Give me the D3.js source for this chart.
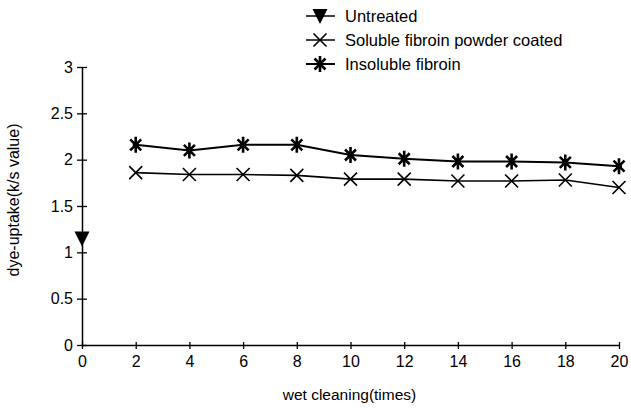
<!DOCTYPE html>
<html>
<head>
<meta charset="utf-8">
<script src="https://cdn.jsdelivr.net/npm/d3@7"></script>
<style>
  body { margin: 0; background: #fff; }
  text { font-family: "Liberation Sans", Arial, sans-serif; fill: #000; }
</style>
</head>
<body>
<svg id="chart" width="631" height="408"></svg>
<script>
var washes = [2, 4, 6, 8, 10, 12, 14, 16, 18, 20];
var untreated = [{ x: 0, y: 1.15 }];
var soluble = [1.86, 1.84, 1.84, 1.83, 1.79, 1.79, 1.77, 1.77, 1.78, 1.70];
var insoluble = [2.16, 2.10, 2.16, 2.16, 2.05, 2.01, 1.98, 1.98, 1.97, 1.93];
var xTicks = [0, 2, 4, 6, 8, 10, 12, 14, 16, 18, 20];
var yTicks = [0, 0.5, 1, 1.5, 2, 2.5, 3];
var legendNames = ["Untreated", "Soluble fibroin powder coated", "Insoluble fibroin"];

var svg = d3.select("#chart"),
    plotLeft = 82, plotRight = 619, plotTop = 67, plotBottom = 345;

var x = d3.scaleLinear().domain([0, 20]).range([plotLeft, plotRight]);
var y = d3.scaleLinear().domain([0, 3]).range([plotBottom, plotTop]);

// axes
var xAxis = svg.append("g").attr("transform", "translate(0," + plotBottom + ")")
    .call(d3.axisBottom(x).tickValues(xTicks).tickFormat(d3.format("d")).tickSize(4).tickSizeOuter(0));
xAxis.selectAll(".tick line").attr("y1", -3);
var yAxis = svg.append("g").attr("transform", "translate(" + plotLeft + ",0)")
    .call(d3.axisLeft(y).tickValues(yTicks).tickFormat(function (d) { return d; }).tickSize(5).tickSizeOuter(0));
yAxis.selectAll(".tick line").attr("x1", 5).attr("x2", -5);

svg.selectAll(".domain").attr("stroke", "#000").attr("stroke-width", 1.5);
svg.selectAll(".tick line").attr("stroke", "#000").attr("stroke-width", 1.3);
xAxis.selectAll("text").attr("font-size", 16).attr("dy", "1em").attr("y", 6)
    .style("font-family", "Liberation Sans, Arial, sans-serif");
yAxis.selectAll("text").attr("font-size", 16).attr("x", -9)
    .style("font-family", "Liberation Sans, Arial, sans-serif");

// axis titles
svg.append("text").attr("x", (plotLeft + plotRight) / 2 - 1).attr("y", 400)
    .attr("text-anchor", "middle").attr("font-size", 15.5).text("wet cleaning(times)");
svg.append("text").attr("transform", "translate(19," + ((plotTop + plotBottom) / 2 - 6) + ") rotate(-90)")
    .attr("text-anchor", "middle").attr("font-size", 16).text("dye-uptake(k/s value)");

// marker shapes
function drawCross(g, cx, cy) {
    var s = 6.5;
    g.append("path")
        .attr("d", "M" + (cx - s) + "," + (cy - s) + "L" + (cx + s) + "," + (cy + s) +
            "M" + (cx - s) + "," + (cy + s) + "L" + (cx + s) + "," + (cy - s))
        .attr("stroke", "#000").attr("stroke-width", 1.6).attr("fill", "none");
}
function drawStar(g, cx, cy) {
    var s = 7, d = 5.5;
    g.append("path")
        .attr("d", "M" + cx + "," + (cy - s - 1) + "L" + cx + "," + (cy + s + 1) +
            "M" + (cx - d) + "," + (cy - d) + "L" + (cx + d) + "," + (cy + d) +
            "M" + (cx - d) + "," + (cy + d) + "L" + (cx + d) + "," + (cy - d))
        .attr("stroke", "#000").attr("stroke-width", 2.6).attr("fill", "none");
    g.append("circle").attr("cx", cx).attr("cy", cy).attr("r", 3).attr("fill", "#000");
}
function drawTriangle(g, cx, cy) {
    var w = 7.5;
    g.append("path")
        .attr("d", "M" + (cx - w) + "," + (cy - 7) + "L" + (cx + w) + "," + (cy - 7) + "L" + cx + "," + (cy + 8) + "Z")
        .attr("fill", "#000");
}

var line = d3.line().x(function (d) { return x(d[0]); }).y(function (d) { return y(d[1]); });

var solPts = washes.map(function (w, i) { return [w, soluble[i]]; });
var insPts = washes.map(function (w, i) { return [w, insoluble[i]]; });

svg.append("path").datum(solPts).attr("d", line)
    .attr("fill", "none").attr("stroke", "#000").attr("stroke-width", 1.6);
svg.append("path").datum(insPts).attr("d", line)
    .attr("fill", "none").attr("stroke", "#000").attr("stroke-width", 2);

var marks = svg.append("g");
solPts.forEach(function (p) { drawCross(marks, x(p[0]), y(p[1])); });
insPts.forEach(function (p) { drawStar(marks, x(p[0]), y(p[1])); });
untreated.forEach(function (p) { drawTriangle(marks, x(p.x), y(p.y)); });

// legend
var legend = svg.append("g");
var drawers = [drawTriangle, drawCross, drawStar];
legendNames.forEach(function (name, i) {
    var ly = 16 + i * 24;
    legend.append("line").attr("x1", 306).attr("x2", 335).attr("y1", ly).attr("y2", ly)
        .attr("stroke", "#000").attr("stroke-width", i == 2 ? 2 : 1.5);
    drawers[i](legend, 320, ly);
    legend.append("text").attr("x", 345).attr("y", ly + 5.5).attr("font-size", 16.5).text(name);
});
</script>
</body>
</html>
